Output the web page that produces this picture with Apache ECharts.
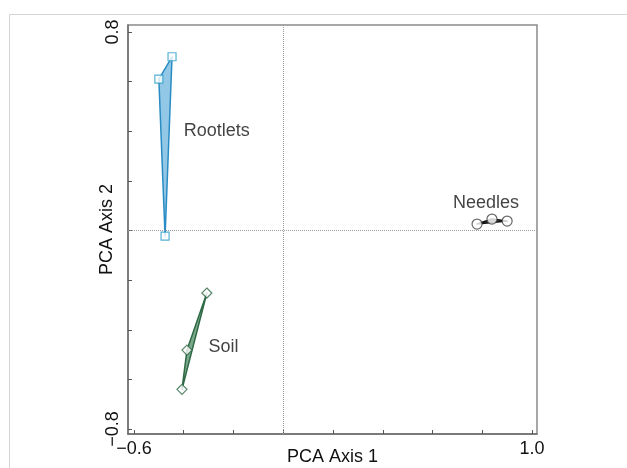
<!DOCTYPE html>
<html>
<head>
<meta charset="utf-8">
<script src="https://cdn.jsdelivr.net/npm/echarts@6/dist/echarts.min.js"></script>
<style>
  html, body { margin: 0; padding: 0; background: #fff; }
  #chart { width: 627px; height: 468px; }
</style>
</head>
<body>
<div id="chart"></div>
<script>
// PCA scores per sample group
const rootlets = [[-0.50, 0.61], [-0.447, 0.70], [-0.475, -0.023]]
const soil = [[-0.307, -0.252], [-0.387, -0.482], [-0.407, -0.64]]
const needles = [[0.779, 0.026], [0.839, 0.046], [0.90, 0.038]]

const groupNames = ['Rootlets', 'Soil', 'Needles']
const groupLabelAt = [[-0.40, 0.40], [-0.30, -0.47], [0.682, 0.11]]

const xTicks = [-0.6, -0.4, -0.2, 0, 0.2, 0.4, 0.6, 0.8, 1.0]
const yTicks = [-0.8, -0.6, -0.4, -0.2, 0, 0.2, 0.4, 0.6, 0.8]
const xLabels = [-0.6, 1.0]
const yLabels = [-0.8, 0.8]

const fmt = (v) => (v < 0 ? '\u2212' : '') + Math.abs(v).toFixed(1)
const FONT = 'Liberation Sans, Arial, sans-serif'

const chart = echarts.init(document.getElementById('chart'))

const hull = (pts, stroke, fill) => ({
  type: 'custom',
  clip: false,
  z: 2,
  data: pts,
  renderItem: (params, api) => {
    if (params.dataIndex !== 0) return null
    return {
      type: 'polygon',
      shape: { points: pts.map(p => api.coord(p)) },
      style: { fill: fill, stroke: stroke, lineWidth: 1.5, lineJoin: 'round' }
    }
  }
})

const markers = (pts, symbol, size, color) => ({
  type: 'scatter',
  z: 3,
  data: pts,
  symbol: symbol,
  symbolSize: size,
  itemStyle: { color: '#fff', borderColor: color, borderWidth: 1.2 },
  emphasis: { disabled: true }
})

const option = {
  animation: false,
  textStyle: { fontFamily: FONT },
  graphic: [
    { type: 'line', shape: { x1: 9.5, y1: 14.5, x2: 627, y2: 14.5 }, style: { stroke: '#d4d4d4', lineWidth: 1 } },
    { type: 'line', shape: { x1: 9.5, y1: 14.5, x2: 9.5, y2: 468 }, style: { stroke: '#d4d4d4', lineWidth: 1 } }
  ],
  grid: {
    left: 128,
    right: 90,
    top: 25,
    bottom: 34,
    outerBoundsMode: 'none',
    containLabel: false,
    show: true,
    borderColor: '#8a8a8a',
    borderWidth: 1.5
  },
  xAxis: {
    type: 'value',
    min: -0.624,
    max: 1.02,
    name: 'PCA Axis 1',
    nameLocation: 'middle',
    nameGap: 14,
    nameMoveOverlap: false,
    nameTextStyle: { color: '#111', fontSize: 18, fontFamily: FONT },
    axisLine: { onZero: false, lineStyle: { color: '#6e6e6e', width: 1.5 } },
    axisTick: { inside: true, length: 4, customValues: xTicks, lineStyle: { color: '#555' } },
    axisLabel: { customValues: xLabels, formatter: fmt, color: '#111', fontSize: 18, margin: 6 },
    splitLine: { show: false }
  },
  yAxis: {
    type: 'value',
    min: -0.82,
    max: 0.828,
    name: 'PCA Axis 2',
    nameLocation: 'middle',
    nameGap: 12,
    nameMoveOverlap: false,
    nameTextStyle: { color: '#111', fontSize: 18, fontFamily: FONT },
    axisLine: { onZero: false, lineStyle: { color: '#6e6e6e', width: 1.5 } },
    axisTick: { inside: true, length: 4, customValues: yTicks, lineStyle: { color: '#555' } },
    axisLabel: { customValues: yLabels, formatter: fmt, rotate: 90, color: '#111', fontSize: 18, margin: 6 },
    splitLine: { show: false }
  },
  series: [
    {
      type: 'scatter',
      data: groupLabelAt.map((p, i) => ({ value: p, name: groupNames[i] })),
      symbolSize: 0,
      z: 4,
      label: {
        show: true,
        position: 'right',
        distance: 0,
        formatter: (p) => p.name,
        color: '#111',
        fontSize: 18,
        fontFamily: FONT
      },
      emphasis: { disabled: true },
      markLine: {
        silent: true,
        symbol: 'none',
        label: { show: false },
        lineStyle: { color: '#9a9a9a', type: 'dotted', width: 1 },
        data: [{ xAxis: 0 }, { yAxis: 0 }]
      }
    },
    hull(rootlets, '#2a8cc4', 'rgba(110, 180, 220, 0.75)'),
    hull(soil, '#2f6a46', 'rgba(80, 140, 100, 0.75)'),
    hull(needles, '#111', 'rgba(40, 40, 40, 0.8)'),
    markers(rootlets, 'rect', 8, '#2a9cc8'),
    markers(soil, 'diamond', 10, '#2f6a46'),
    markers(needles, 'circle', 10, '#444')
  ]
}

chart.setOption(option)
</script>
</body>
</html>
